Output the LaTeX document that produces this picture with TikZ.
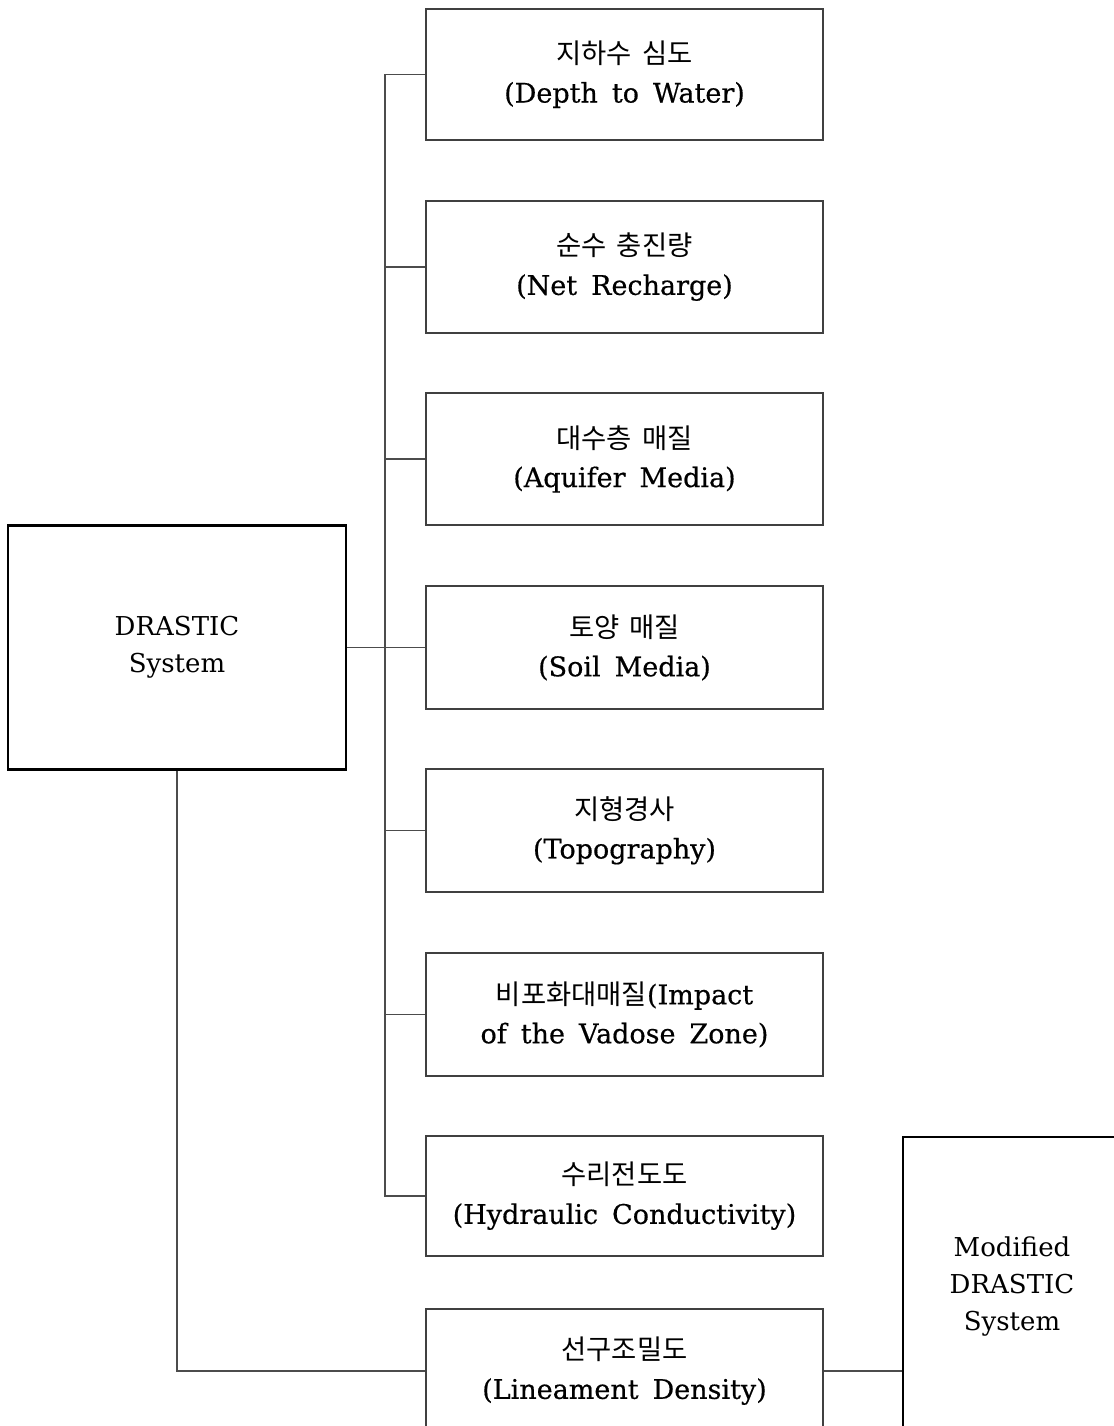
\documentclass[tikz,border=0pt]{standalone}
\usepackage{fontspec}
\setmainfont{DejaVu Serif}
\newfontfamily\enb[FakeBold=0.5]{DejaVu Serif}
\newfontfamily\kr{Noto Sans CJK KR}
\newcommand{\krt}[1]{{\kr\fontsize{13.7}{19}\selectfont\spaceskip=5pt\relax #1}}
\newcommand{\rfont}{\enb\fontsize{13.5}{19.5}\selectfont\spaceskip=7pt\relax}
\begin{document}
\begin{tikzpicture}[x=0.5pt,y=-0.5pt]
\tikzset{
 rbox/.style={draw=black!75, line width=0.6pt, minimum width=198.5pt, inner sep=0pt, align=center, font=\rfont},
 bbox/.style={draw=black, line width=1.1pt, inner sep=0pt, align=center, font=\fontsize{13}{18.5}\selectfont},
 conn/.style={draw=black!70, line width=0.6pt}
}
\useasboundingbox (0,0) rectangle (1114,1426);
\clip (0,0) rectangle (1114,1426);
\node[rbox, minimum height=65.5pt] (b1) at (624.5,74.5) {\krt{지하수 심도}\\(Depth to Water)};
\node[rbox, minimum height=66pt] (b2) at (624.5,267) {\krt{순수 충진량}\\(Net Recharge)};
\node[rbox, minimum height=66pt] (b3) at (624.5,459) {\krt{대수층 매질}\\(Aquifer Media)};
\node[rbox, minimum height=61.5pt] (b4) at (624.5,647.5) {\krt{토양 매질}\\(Soil Media)};
\node[rbox, minimum height=61.5pt] (b5) at (624.5,830.5) {\krt{지형경사}\\(Topography)};
\node[rbox, minimum height=61.5pt] (b6) at (624.5,1014.5) {\krt{비포화대매질}(Impact\\of the Vadose Zone)};
\node[rbox, minimum height=60pt] (b7) at (624.5,1196) {\krt{수리전도도}\\(Hydraulic Conductivity)};
\node[rbox, minimum height=62pt] (b8) at (624.5,1371) {\krt{선구조밀도}\\(Lineament Density)};
\node[bbox, minimum width=169pt, minimum height=122pt] (ds) at (177,647.5) {DRASTIC\\System};
\node[bbox, line width=1.4pt, minimum width=109pt, minimum height=149pt] (md) at (1012,1286) {Modified\\DRASTIC\\System};
\coordinate (t1) at (385,74.5);
\coordinate (t7) at (385,1196);
\draw[conn] (b1.west) -- (t1) -- (t7) -- (b7.west);
\foreach \b in {b2,b3,b5,b6} \draw[conn] (\b.west) -- (\b.west -| t1);
\draw[conn] (ds.east) -- (ds.east -| b4.west);
\draw[conn] (ds.south) |- (b8.west);
\draw[conn] (b8.east) -- (b8.east -| md.west);
\end{tikzpicture}
\end{document}
